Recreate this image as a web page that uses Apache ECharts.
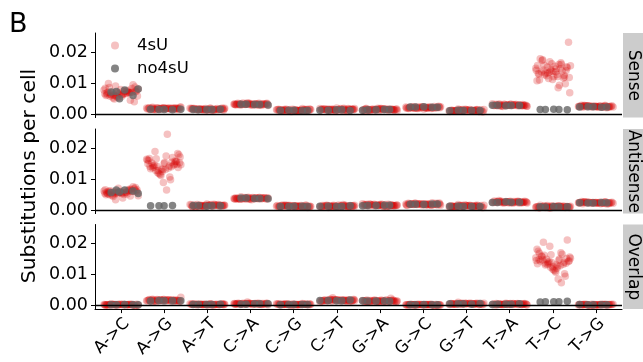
<!DOCTYPE html>
<html><head><meta charset="utf-8">
<script src="https://cdn.jsdelivr.net/npm/echarts@6/dist/echarts.min.js"></script>
<style>html,body{margin:0;padding:0;background:#fff}#c{width:643px;height:362px}</style>
</head><body><div id="c"></div>
<script>
// ---------------- DATA ----------------
const categories = ['A->C','A->G','A->T','C->A','C->G','C->T','G->A','G->C','G->T','T->A','T->C','T->G'];
const panels = ['Sense','Antisense','Overlap'];
const groups = ['4sU','no4sU'];
const yTicks = [0, 0.01, 0.02];
const refZero = 0;
const refThreshold = 0.004;

const sense_4sU = [
[0.0068,0.0072,0.0061,0.0079,0.0065,0.0058,0.0083,0.0070,0.0066,0.0075,0.0052,0.0088,0.0063,0.0071,0.0069,0.0057,0.0081,0.0074,0.0062,0.0095,0.0067,0.0060,0.0077,0.0049,0.0073,0.0064,0.0086,0.0070,0.0055,0.0078,0.0066,0.0071,0.0040,0.0080,0.0063,0.0069,0.0091,0.0059,0.0076,0.0065,0.0072,0.0054,0.0084,0.0068,0.0061,0.0074,0.0058,0.0099,0.0045,0.0070],
[0.0019,0.0016,0.0018,0.0021,0.0017,0.0020,0.0015,0.0018,0.0022,0.0016,0.0019,0.0017,0.0020,0.0014,0.0018,0.0021,0.0016,0.0019,0.0017,0.0023,0.0018,0.0015,0.0020,0.0017,0.0019,0.0016,0.0021,0.0018,0.0017,0.0020,0.0018,0.0017,0.0020,0.0019,0.0016,0.0018,0.0021,0.0015,0.0019,0.0017,0.0022,0.0018,0.0016,0.0020,0.0018],
[0.0015,0.0017,0.0019,0.0014,0.0016,0.0018,0.0015,0.0013,0.0017,0.0020,0.0014,0.0016,0.0018,0.0015,0.0019,0.0012,0.0017,0.0016,0.0014,0.0018,0.0015,0.0017,0.0013,0.0019,0.0016,0.0014,0.0017,0.0018,0.0015,0.0016,0.0017,0.0015,0.0018,0.0016,0.0014,0.0019,0.0015,0.0017,0.0016,0.0013,0.0018,0.0016,0.0015,0.0017,0.0016],
[0.0034,0.0032,0.0030,0.0033,0.0035,0.0031,0.0032,0.0029,0.0034,0.0033,0.0030,0.0036,0.0031,0.0032,0.0035,0.0030,0.0033,0.0028,0.0034,0.0032,0.0031,0.0035,0.0030,0.0033,0.0032,0.0034,0.0029,0.0033,0.0031,0.0037,0.0032,0.0033,0.0031,0.0034,0.0030,0.0032,0.0035,0.0031,0.0033,0.0032,0.0029,0.0034,0.0032,0.0031,0.0033],
[0.0013,0.0015,0.0012,0.0016,0.0011,0.0014,0.0010,0.0017,0.0013,0.0012,0.0015,0.0009,0.0014,0.0011,0.0016,0.0013,0.0010,0.0014,0.0018,0.0012,0.0015,0.0011,0.0013,0.0014,0.0009,0.0016,0.0012,0.0015,0.0011,0.0014,0.0013,0.0012,0.0015,0.0014,0.0011,0.0013,0.0016,0.0012,0.0014,0.0013,0.0010,0.0015,0.0013,0.0012,0.0014],
[0.0016,0.0013,0.0015,0.0018,0.0014,0.0017,0.0012,0.0015,0.0019,0.0013,0.0016,0.0014,0.0017,0.0011,0.0015,0.0018,0.0013,0.0016,0.0014,0.0020,0.0015,0.0012,0.0017,0.0014,0.0016,0.0013,0.0018,0.0015,0.0014,0.0017,0.0015,0.0016,0.0014,0.0017,0.0013,0.0015,0.0018,0.0014,0.0016,0.0015,0.0012,0.0017,0.0015,0.0014,0.0016],
[0.0014,0.0016,0.0018,0.0013,0.0015,0.0017,0.0014,0.0012,0.0016,0.0019,0.0013,0.0015,0.0017,0.0014,0.0018,0.0011,0.0016,0.0015,0.0013,0.0017,0.0014,0.0016,0.0012,0.0018,0.0015,0.0013,0.0016,0.0017,0.0014,0.0015,0.0016,0.0014,0.0017,0.0015,0.0013,0.0018,0.0014,0.0016,0.0015,0.0012,0.0017,0.0015,0.0014,0.0016,0.0015],
[0.0023,0.0021,0.0019,0.0022,0.0024,0.0020,0.0021,0.0018,0.0023,0.0022,0.0019,0.0025,0.0020,0.0021,0.0024,0.0019,0.0022,0.0017,0.0023,0.0021,0.0020,0.0024,0.0019,0.0022,0.0021,0.0023,0.0018,0.0022,0.0020,0.0026,0.0021,0.0022,0.0020,0.0023,0.0019,0.0021,0.0024,0.0020,0.0022,0.0021,0.0018,0.0023,0.0021,0.0020,0.0022],
[0.0012,0.0014,0.0011,0.0015,0.0010,0.0013,0.0009,0.0016,0.0012,0.0011,0.0014,0.0008,0.0013,0.0010,0.0015,0.0012,0.0009,0.0013,0.0017,0.0011,0.0014,0.0010,0.0012,0.0013,0.0008,0.0015,0.0011,0.0014,0.0010,0.0013,0.0012,0.0011,0.0014,0.0013,0.0010,0.0012,0.0015,0.0011,0.0013,0.0012,0.0009,0.0014,0.0012,0.0011,0.0013],
[0.0030,0.0027,0.0029,0.0032,0.0028,0.0031,0.0026,0.0029,0.0033,0.0027,0.0030,0.0028,0.0031,0.0025,0.0029,0.0032,0.0027,0.0030,0.0028,0.0034,0.0029,0.0026,0.0031,0.0028,0.0030,0.0027,0.0032,0.0029,0.0028,0.0031,0.0029,0.0030,0.0028,0.0031,0.0027,0.0029,0.0032,0.0028,0.0030,0.0029,0.0026,0.0031,0.0029,0.0028,0.0030],
[0.0135,0.0148,0.0122,0.0158,0.0141,0.0112,0.0129,0.0166,0.0152,0.0118,0.0137,0.0173,0.0126,0.0145,0.0108,0.0160,0.0133,0.0150,0.0121,0.0179,0.0139,0.0115,0.0156,0.0128,0.0143,0.0098,0.0163,0.0131,0.0147,0.0124,0.0232,0.0155,0.0136,0.0117,0.0169,0.0142,0.0085,0.0127,0.0153,0.0138,0.0110,0.0161,0.0132,0.0069,0.0146,0.0176,0.0120,0.0140,0.0157,0.0093],
[0.0024,0.0026,0.0028,0.0023,0.0025,0.0027,0.0024,0.0022,0.0026,0.0029,0.0023,0.0025,0.0027,0.0024,0.0028,0.0021,0.0026,0.0025,0.0023,0.0027,0.0024,0.0026,0.0022,0.0028,0.0025,0.0023,0.0026,0.0027,0.0024,0.0025,0.0026,0.0024,0.0027,0.0025,0.0023,0.0028,0.0024,0.0026,0.0025,0.0022,0.0027,0.0025,0.0024,0.0026,0.0025]
];
const sense_no4sU = [
[0.0073,0.0081,0.0078,0.0072,0.0060,0.0050],[0.0015,0.0016,0.0014,0.0015,0.0016],[0.0015,0.0014,0.0016,0.0015,0.0015],[0.0031,0.0032,0.0030,0.0031,0.0032],[0.0012,0.0013,0.0012,0.0011,0.0013],[0.0013,0.0014,0.0013,0.0012,0.0014],[0.0014,0.0015,0.0014,0.0013,0.0015],[0.0023,0.0022,0.0024,0.0023,0.0022],[0.0012,0.0011,0.0012,0.0013,0.0012],[0.0028,0.0029,0.0028,0.0027,0.0029],[0.0015,0.0015,0.0014,0.0016,0.0015],[0.0023,0.0024,0.0023,0.0022,0.0024]
];

const antisense_4sU = [
[0.0058,0.0062,0.0053,0.0066,0.0056,0.0049,0.0061,0.0071,0.0055,0.0059,0.0044,0.0064,0.0057,0.0052,0.0068,0.0060,0.0047,0.0063,0.0054,0.0076,0.0058,0.0050,0.0065,0.0056,0.0061,0.0039,0.0059,0.0067,0.0053,0.0062,0.0057,0.0048,0.0070,0.0060,0.0055,0.0064,0.0034,0.0058,0.0051,0.0063,0.0060,0.0056,0.0066,0.0052,0.0059,0.0073,0.0054,0.0061,0.0046,0.0057],
[0.0145,0.0158,0.0132,0.0167,0.0140,0.0121,0.0153,0.0175,0.0137,0.0149,0.0112,0.0162,0.0143,0.0128,0.0183,0.0151,0.0134,0.0170,0.0118,0.0147,0.0245,0.0139,0.0156,0.0125,0.0160,0.0098,0.0142,0.0179,0.0131,0.0152,0.0146,0.0115,0.0164,0.0136,0.0189,0.0148,0.0089,0.0141,0.0155,0.0127,0.0172,0.0065,0.0144,0.0159,0.0133,0.0150,0.0107,0.0166,0.0138,0.0154],
[0.0015,0.0017,0.0014,0.0018,0.0013,0.0016,0.0012,0.0019,0.0015,0.0014,0.0017,0.0011,0.0016,0.0013,0.0018,0.0015,0.0012,0.0016,0.0020,0.0014,0.0017,0.0013,0.0015,0.0016,0.0011,0.0018,0.0014,0.0017,0.0013,0.0016,0.0015,0.0014,0.0017,0.0016,0.0013,0.0015,0.0018,0.0014,0.0016,0.0015,0.0012,0.0017,0.0015,0.0014,0.0016],
[0.0039,0.0036,0.0038,0.0041,0.0037,0.0040,0.0035,0.0038,0.0042,0.0036,0.0039,0.0037,0.0040,0.0034,0.0038,0.0041,0.0036,0.0039,0.0037,0.0043,0.0038,0.0035,0.0040,0.0037,0.0039,0.0036,0.0041,0.0038,0.0037,0.0040,0.0038,0.0039,0.0037,0.0040,0.0036,0.0038,0.0041,0.0037,0.0039,0.0038,0.0035,0.0040,0.0038,0.0037,0.0039],
[0.0012,0.0014,0.0016,0.0011,0.0013,0.0015,0.0012,0.0010,0.0014,0.0017,0.0011,0.0013,0.0015,0.0012,0.0016,0.0009,0.0014,0.0013,0.0011,0.0015,0.0012,0.0014,0.0010,0.0016,0.0013,0.0011,0.0014,0.0015,0.0012,0.0013,0.0014,0.0012,0.0015,0.0013,0.0011,0.0016,0.0012,0.0014,0.0013,0.0010,0.0015,0.0013,0.0012,0.0014,0.0013],
[0.0015,0.0013,0.0011,0.0014,0.0016,0.0012,0.0013,0.0010,0.0015,0.0014,0.0011,0.0017,0.0012,0.0013,0.0016,0.0011,0.0014,0.0009,0.0015,0.0013,0.0012,0.0016,0.0011,0.0014,0.0013,0.0015,0.0010,0.0014,0.0012,0.0018,0.0013,0.0014,0.0012,0.0015,0.0011,0.0013,0.0016,0.0012,0.0014,0.0013,0.0010,0.0015,0.0013,0.0012,0.0014],
[0.0016,0.0018,0.0015,0.0019,0.0014,0.0017,0.0013,0.0020,0.0016,0.0015,0.0018,0.0012,0.0017,0.0014,0.0019,0.0016,0.0013,0.0017,0.0021,0.0015,0.0018,0.0014,0.0016,0.0017,0.0012,0.0019,0.0015,0.0018,0.0014,0.0017,0.0016,0.0015,0.0018,0.0017,0.0014,0.0016,0.0019,0.0015,0.0017,0.0016,0.0013,0.0018,0.0016,0.0015,0.0017],
[0.0020,0.0017,0.0019,0.0022,0.0018,0.0021,0.0016,0.0019,0.0023,0.0017,0.0020,0.0018,0.0021,0.0015,0.0019,0.0022,0.0017,0.0020,0.0018,0.0024,0.0019,0.0016,0.0021,0.0018,0.0020,0.0017,0.0022,0.0019,0.0018,0.0021,0.0019,0.0020,0.0018,0.0021,0.0017,0.0019,0.0022,0.0018,0.0020,0.0019,0.0016,0.0021,0.0019,0.0018,0.0020],
[0.0013,0.0015,0.0012,0.0016,0.0011,0.0014,0.0010,0.0017,0.0013,0.0012,0.0015,0.0009,0.0014,0.0011,0.0016,0.0013,0.0010,0.0014,0.0018,0.0012,0.0015,0.0011,0.0013,0.0014,0.0009,0.0016,0.0012,0.0015,0.0011,0.0014,0.0013,0.0012,0.0015,0.0014,0.0011,0.0013,0.0016,0.0012,0.0014,0.0013,0.0010,0.0015,0.0013,0.0012,0.0014],
[0.0028,0.0026,0.0024,0.0027,0.0029,0.0025,0.0026,0.0023,0.0028,0.0027,0.0024,0.0030,0.0025,0.0026,0.0029,0.0024,0.0027,0.0022,0.0028,0.0026,0.0025,0.0029,0.0024,0.0027,0.0026,0.0028,0.0023,0.0027,0.0025,0.0031,0.0026,0.0027,0.0025,0.0028,0.0024,0.0026,0.0029,0.0025,0.0027,0.0026,0.0023,0.0028,0.0026,0.0025,0.0027],
[0.0012,0.0009,0.0011,0.0014,0.0010,0.0013,0.0008,0.0011,0.0015,0.0009,0.0012,0.0010,0.0013,0.0007,0.0011,0.0014,0.0009,0.0012,0.0010,0.0016,0.0011,0.0008,0.0013,0.0010,0.0012,0.0009,0.0014,0.0011,0.0010,0.0013,0.0011,0.0012,0.0010,0.0013,0.0009,0.0011,0.0014,0.0010,0.0012,0.0011,0.0008,0.0013,0.0011,0.0010,0.0012],
[0.0023,0.0025,0.0027,0.0022,0.0024,0.0026,0.0023,0.0021,0.0025,0.0028,0.0022,0.0024,0.0026,0.0023,0.0027,0.0020,0.0025,0.0024,0.0022,0.0026,0.0023,0.0025,0.0021,0.0027,0.0024,0.0022,0.0025,0.0026,0.0023,0.0024,0.0025,0.0023,0.0026,0.0024,0.0022,0.0027,0.0023,0.0025,0.0024,0.0021,0.0026,0.0024,0.0023,0.0025,0.0024]
];
const antisense_no4sU = [
[0.0065,0.0054,0.0065,0.0057,0.0062,0.0059],[0.0014,0.0014,0.0015,0.0014],[0.0014,0.0015,0.0014,0.0013,0.0015],[0.0038,0.0039,0.0037,0.0038,0.0039],[0.0012,0.0013,0.0012,0.0013,0.0012],[0.0013,0.0012,0.0013,0.0014,0.0012],[0.0015,0.0016,0.0015,0.0014,0.0016],[0.0019,0.0020,0.0018,0.0019,0.0020],[0.0012,0.0013,0.0012,0.0013,0.0012],[0.0026,0.0025,0.0026,0.0027,0.0025],[0.0011,0.0010,0.0011,0.0012,0.0011],[0.0024,0.0023,0.0024,0.0025,0.0023]
];

const overlap_4sU = [
[0.0003,0.0004,0.0003,0.0005,0.0002,0.0004,0.0002,0.0005,0.0003,0.0003,0.0004,0.0001,0.0004,0.0002,0.0005,0.0003,0.0002,0.0004,0.0006,0.0003,0.0004,0.0002,0.0003,0.0004,0.0001,0.0005,0.0003,0.0004,0.0002,0.0004,0.0003,0.0004,0.0002,0.0005,0.0003,0.0003,0.0004,0.0002,0.0004,0.0003,0.0005,0.0003,0.0002,0.0004,0.0003],
[0.0018,0.0015,0.0017,0.0020,0.0016,0.0019,0.0014,0.0017,0.0021,0.0015,0.0018,0.0016,0.0019,0.0013,0.0017,0.0020,0.0015,0.0018,0.0016,0.0027,0.0017,0.0014,0.0019,0.0016,0.0018,0.0015,0.0020,0.0017,0.0016,0.0019,0.0017,0.0018,0.0016,0.0019,0.0015,0.0017,0.0020,0.0016,0.0018,0.0017,0.0014,0.0019,0.0017,0.0016,0.0018],
[0.0004,0.0005,0.0006,0.0003,0.0004,0.0005,0.0004,0.0002,0.0005,0.0006,0.0003,0.0004,0.0005,0.0004,0.0006,0.0002,0.0005,0.0004,0.0003,0.0005,0.0004,0.0005,0.0003,0.0006,0.0004,0.0003,0.0005,0.0005,0.0004,0.0004,0.0005,0.0004,0.0006,0.0004,0.0003,0.0005,0.0004,0.0005,0.0004,0.0003,0.0005,0.0004,0.0004,0.0005,0.0004],
[0.0007,0.0006,0.0005,0.0007,0.0008,0.0006,0.0006,0.0004,0.0007,0.0007,0.0005,0.0008,0.0005,0.0006,0.0008,0.0005,0.0007,0.0003,0.0007,0.0006,0.0005,0.0008,0.0005,0.0007,0.0006,0.0007,0.0004,0.0007,0.0005,0.0012,0.0006,0.0007,0.0005,0.0007,0.0006,0.0006,0.0008,0.0005,0.0007,0.0006,0.0004,0.0007,0.0006,0.0005,0.0007],
[0.0004,0.0005,0.0004,0.0006,0.0003,0.0005,0.0003,0.0006,0.0004,0.0004,0.0005,0.0002,0.0005,0.0003,0.0006,0.0004,0.0003,0.0005,0.0007,0.0004,0.0005,0.0003,0.0004,0.0005,0.0002,0.0006,0.0004,0.0005,0.0003,0.0005,0.0004,0.0005,0.0003,0.0006,0.0004,0.0004,0.0005,0.0003,0.0005,0.0004,0.0006,0.0004,0.0003,0.0005,0.0004],
[0.0016,0.0018,0.0020,0.0015,0.0017,0.0019,0.0016,0.0014,0.0018,0.0021,0.0015,0.0017,0.0019,0.0016,0.0020,0.0013,0.0018,0.0017,0.0015,0.0019,0.0016,0.0018,0.0014,0.0020,0.0017,0.0015,0.0018,0.0019,0.0016,0.0017,0.0018,0.0016,0.0019,0.0017,0.0015,0.0026,0.0016,0.0018,0.0017,0.0014,0.0019,0.0017,0.0016,0.0018,0.0017],
[0.0017,0.0015,0.0013,0.0016,0.0018,0.0014,0.0015,0.0012,0.0017,0.0016,0.0013,0.0019,0.0014,0.0015,0.0018,0.0013,0.0016,0.0011,0.0017,0.0015,0.0014,0.0018,0.0013,0.0016,0.0015,0.0017,0.0012,0.0016,0.0014,0.0024,0.0015,0.0016,0.0014,0.0017,0.0013,0.0015,0.0018,0.0014,0.0016,0.0015,0.0012,0.0017,0.0015,0.0014,0.0016],
[0.0003,0.0004,0.0002,0.0004,0.0003,0.0003,0.0002,0.0005,0.0003,0.0004,0.0003,0.0001,0.0004,0.0002,0.0004,0.0003,0.0002,0.0003,0.0005,0.0003,0.0004,0.0002,0.0003,0.0003,0.0001,0.0004,0.0003,0.0004,0.0002,0.0003,0.0003,0.0004,0.0002,0.0004,0.0003,0.0003,0.0004,0.0002,0.0003,0.0003,0.0005,0.0003,0.0002,0.0004,0.0003],
[0.0006,0.0007,0.0005,0.0008,0.0005,0.0007,0.0004,0.0008,0.0006,0.0005,0.0007,0.0004,0.0007,0.0005,0.0008,0.0006,0.0004,0.0007,0.0011,0.0005,0.0007,0.0005,0.0006,0.0007,0.0004,0.0008,0.0005,0.0007,0.0005,0.0007,0.0006,0.0005,0.0007,0.0006,0.0005,0.0006,0.0008,0.0005,0.0007,0.0006,0.0004,0.0007,0.0006,0.0005,0.0006],
[0.0005,0.0006,0.0004,0.0007,0.0004,0.0006,0.0003,0.0007,0.0005,0.0004,0.0006,0.0003,0.0006,0.0004,0.0007,0.0005,0.0003,0.0006,0.0008,0.0004,0.0006,0.0004,0.0005,0.0006,0.0003,0.0007,0.0004,0.0006,0.0004,0.0006,0.0005,0.0004,0.0006,0.0005,0.0004,0.0005,0.0007,0.0004,0.0006,0.0005,0.0003,0.0006,0.0005,0.0004,0.0005],
[0.0142,0.0155,0.0128,0.0163,0.0137,0.0118,0.0149,0.0171,0.0133,0.0145,0.0108,0.0158,0.0140,0.0124,0.0182,0.0147,0.0131,0.0212,0.0115,0.0144,0.0166,0.0136,0.0153,0.0121,0.0205,0.0095,0.0139,0.0176,0.0129,0.0150,0.0143,0.0112,0.0160,0.0134,0.0192,0.0146,0.0086,0.0138,0.0152,0.0126,0.0169,0.0074,0.0141,0.0157,0.0132,0.0148,0.0103,0.0164,0.0135,0.0151],
[0.0003,0.0004,0.0003,0.0005,0.0002,0.0004,0.0002,0.0004,0.0003,0.0003,0.0004,0.0001,0.0004,0.0002,0.0005,0.0003,0.0002,0.0004,0.0005,0.0003,0.0004,0.0002,0.0003,0.0004,0.0001,0.0005,0.0003,0.0004,0.0002,0.0004,0.0003,0.0004,0.0002,0.0004,0.0003,0.0003,0.0005,0.0002,0.0004,0.0003,0.0004,0.0003,0.0002,0.0004,0.0003]
];
const overlap_no4sU = [
[0.0003,0.0003,0.0004,0.0003,0.0003],[0.0016,0.0015,0.0016,0.0017,0.0016],[0.0004,0.0004,0.0005,0.0004,0.0004],[0.0006,0.0005,0.0006,0.0006,0.0005],[0.0004,0.0004,0.0003,0.0004,0.0004],[0.0017,0.0016,0.0017,0.0018,0.0016],[0.0015,0.0014,0.0015,0.0016,0.0015],[0.0003,0.0003,0.0004,0.0003,0.0003],[0.0006,0.0006,0.0005,0.0006,0.0007],[0.0005,0.0005,0.0006,0.0005,0.0004],[0.0013,0.0013,0.0014,0.0013,0.0012],[0.0003,0.0003,0.0004,0.0003,0.0003]
];

// ---------------- LAYOUT / STYLE ----------------
const FONT = 'DejaVu Sans';
const GRID_LEFT = 95, GRID_W = 527, PANEL_H = 84.6;
const PANEL_TOPS = [33, 129, 224.5];
const Y_MIN = -0.0011, Y_MAX = 0.0262;
const RED = 'rgba(214,0,0,0.3)';
const GREY = '#656565';
const panelData = [[sense_4sU, sense_no4sU],[antisense_4sU, antisense_no4sU],[overlap_4sU, overlap_no4sU]];

// deterministic (non-random) horizontal spread for the jittered points
function spread(i, phase) { const f = (i * 0.6180339887 + phase) % 1; return (f - 0.5) * 0.82; }
function toPoints(clusters, phase) {
  const pts = [];
  clusters.forEach((vals, c) => vals.forEach((v, i) => pts.push([c + 1 + spread(i, phase + c * 0.13), v])));
  return pts;
}

const tickPos = categories.map((c, i) => i + 1);
const grids = PANEL_TOPS.map(t => ({left: GRID_LEFT, top: t, width: GRID_W, height: PANEL_H}));
const xAxes = panels.map((p, k) => ({
  gridIndex: k, type: 'value', min: 0.4, max: 12.6, show: k === 2,
  axisLine: {show: true, onZero: false, lineStyle: {color: '#000', width: 1}},
  axisTick: {show: true, customValues: tickPos, length: 4, lineStyle: {color: '#000', width: 1}},
  axisLabel: {show: true, customValues: tickPos, formatter: v => categories[Math.round(v) - 1],
    rotate: 45, align: 'right', verticalAlign: 'top', fontSize: 16.5, fontFamily: FONT, color: '#000', margin: 6},
  splitLine: {show: false}
}));
const yAxes = panels.map((p, k) => ({
  gridIndex: k, type: 'value', min: Y_MIN, max: Y_MAX,
  axisLine: {show: true, lineStyle: {color: '#000', width: 1}},
  axisTick: {show: true, customValues: yTicks, length: 4, lineStyle: {color: '#000', width: 1}},
  axisLabel: {show: true, customValues: yTicks, formatter: v => v.toFixed(2), fontSize: 17.5, fontFamily: FONT, color: '#000', margin: 7},
  splitLine: {show: false}
}));

const series = [];
panelData.forEach((pd, k) => {
  series.push({
    name: groups[0], type: 'scatter', xAxisIndex: k, yAxisIndex: k, symbolSize: 7.5, z: 2,
    itemStyle: {color: RED}, emphasis: {disabled: true}, data: toPoints(pd[0], 0.1),
    markLine: {silent: true, symbol: 'none', z: 5, animation: false, label: {show: false},
      data: [
        {yAxis: refThreshold, lineStyle: {color: '#999999', type: [6, 4], width: 1.1}},
        {yAxis: refZero, lineStyle: {color: '#000', type: 'solid', width: 1.3}}
      ]}
  });
  series.push({
    name: groups[1], type: 'scatter', xAxisIndex: k, yAxisIndex: k, symbolSize: 7.5, z: 3,
    itemStyle: {color: GREY}, emphasis: {disabled: true}, data: toPoints(pd[1], 0.37)
  });
});

const graphics = [
  {type: 'text', x: 9, y: 11, style: {text: 'B', fontSize: 27, fontFamily: FONT, fill: '#000'}},
  {type: 'text', x: 30, y: 176, rotation: Math.PI / 2,
    style: {text: 'Substitutions per cell', fontSize: 20.3, fontFamily: FONT, fill: '#000', align: 'center', verticalAlign: 'middle'}}
];
PANEL_TOPS.forEach((t, k) => {
  graphics.push({type: 'rect', shape: {x: 623, y: t, width: 20, height: PANEL_H}, style: {fill: '#cccccc'}});
  graphics.push({type: 'text', x: 633, y: t + PANEL_H / 2, rotation: -Math.PI / 2,
    style: {text: panels[k], fontSize: 17, fontFamily: FONT, fill: '#000', align: 'center', verticalAlign: 'middle'}});
});

const chart = echarts.init(document.getElementById('c'), null, {renderer: 'canvas'});
chart.setOption({
  animation: false,
  backgroundColor: '#ffffff',
  grid: grids, xAxis: xAxes, yAxis: yAxes, series: series,
  legend: {data: groups, orient: 'vertical', left: 111, top: 37, padding: 0, icon: 'circle', itemWidth: 8, itemHeight: 8, itemGap: 6,
    selectedMode: false, textStyle: {fontSize: 16.5, fontFamily: FONT, color: '#000', padding: [0, 0, 0, 13]}},
  graphic: graphics
});
</script>
</body></html>
